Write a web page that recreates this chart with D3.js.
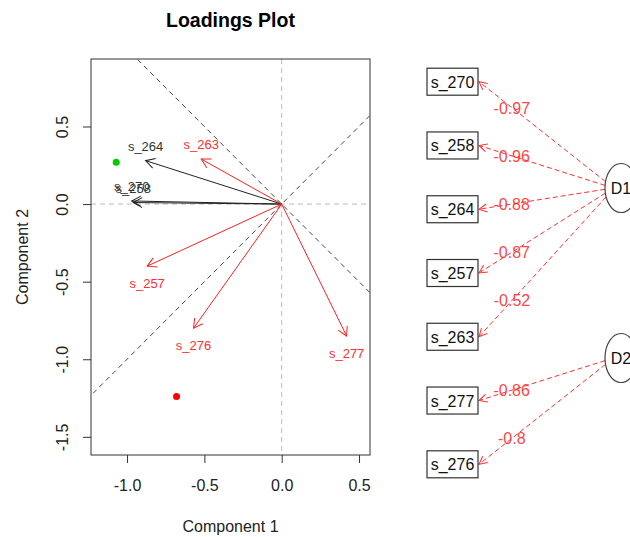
<!DOCTYPE html>
<html>
<head>
<meta charset="utf-8">
<script src="https://cdn.jsdelivr.net/npm/d3@7"></script>
<style>
  body { margin: 0; background: #fff; }
  text { font-family: "Liberation Sans", Arial, sans-serif; }
</style>
</head>
<body>
<svg width="630" height="537"></svg>
<script>
// loadings on the two components (left plot)
const varNames = ["s_270", "s_258", "s_264", "s_263", "s_257", "s_276", "s_277"];
const comp1 = [-0.97, -0.96, -0.88, -0.52, -0.87, -0.57, 0.42];
const comp2 = [0.02, 0.01, 0.28, 0.29, -0.40, -0.80, -0.85];
const varGroup = [1, 1, 1, 2, 2, 2, 2];

// the two score points
const pointX = [-1.07, -0.68];
const pointY = [0.27, -1.24];
const pointGroup = [1, 2];

// tick labels
const xTicks = [-1.0, -0.5, 0.0, 0.5];
const yTicks = [0.5, 0.0, -0.5, -1.0, -1.5];

// path diagram (right)
const pathVars = ["s_270", "s_258", "s_264", "s_257", "s_263", "s_277", "s_276"];
const pathFactor = ["D1", "D1", "D1", "D1", "D1", "D2", "D2"];
const pathLoad = ["-0.97", "-0.96", "-0.88", "-0.87", "-0.52", "-0.86", "-0.8"];
const factors = ["D1", "D2"];

const svg = d3.select("svg");

// plot region
const pLeft = 91, pRight = 370, pTop = 59, pBottom = 455;

const x = d3.scaleLinear().domain([-1.233, 0.571]).range([pLeft, pRight]);
const y = d3.scaleLinear().domain([0.935, -1.617]).range([pTop, pBottom]);

const arrowColor = d3.scaleOrdinal().domain([1, 2]).range(["#222", "#ff2020"]);
const labelColor = d3.scaleOrdinal().domain([1, 2]).range(["#333", "#ff3030"]);
const pointColor = d3.scaleOrdinal().domain([1, 2]).range(["#00cc00", "#ff0000"]);

const defs = svg.append("defs");
defs.append("clipPath").attr("id", "plotclip")
    .append("rect")
    .attr("x", pLeft).attr("y", pTop)
    .attr("width", pRight - pLeft).attr("height", pBottom - pTop);

// arrowheads
[1, 2].forEach(g => {
  defs.append("marker")
      .attr("id", "head" + g)
      .attr("markerUnits", "userSpaceOnUse")
      .attr("markerWidth", 20).attr("markerHeight", 20)
      .attr("viewBox", "-10 -10 20 20")
      .attr("refX", 0).attr("refY", 0)
      .attr("orient", "auto")
      .append("path")
      .attr("d", "M-9,-5L0,0L-9,5")
      .attr("fill", "none")
      .attr("stroke", arrowColor(g))
      .attr("stroke-width", 1);
});
defs.append("marker")
    .attr("id", "pathhead")
    .attr("markerUnits", "userSpaceOnUse")
    .attr("markerWidth", 20).attr("markerHeight", 20)
    .attr("viewBox", "-10 -10 20 20")
    .attr("refX", 0).attr("refY", 0)
    .attr("orient", "auto")
    .append("path")
    .attr("d", "M-8,-4L0,0L-8,4")
    .attr("fill", "none")
    .attr("stroke", "#ff3030")
    .attr("stroke-width", 1);

// title
svg.append("text")
   .attr("x", (pLeft + pRight) / 2).attr("y", 27)
   .attr("text-anchor", "middle")
   .attr("font-size", 19.5).attr("font-weight", "bold")
   .text("Loadings Plot");

const plot = svg.append("g").attr("clip-path", "url(#plotclip)");

// reference lines through the origin
plot.append("line")
    .attr("x1", x(0)).attr("x2", x(0)).attr("y1", pTop).attr("y2", pBottom)
    .attr("stroke", "#bbb").attr("stroke-dasharray", "5,4");
plot.append("line")
    .attr("x1", pLeft).attr("x2", pRight).attr("y1", y(0)).attr("y2", y(0))
    .attr("stroke", "#bbb").attr("stroke-dasharray", "5,4");

// diagonals y = x and y = -x
[[-2, -2, 2, 2], [-2, 2, 2, -2]].forEach(d => {
  plot.append("line")
      .attr("x1", x(d[0])).attr("y1", y(d[1]))
      .attr("x2", x(d[2])).attr("y2", y(d[3]))
      .attr("stroke", "#444").attr("stroke-dasharray", "5,4");
});

// score points
plot.selectAll("circle.score")
    .data(pointX)
    .enter()
    .append("circle")
    .attr("class", "score")
    .attr("cx", (d) => x(d))
    .attr("cy", (d, i) => y(pointY[i]))
    .attr("r", 3.5)
    .attr("fill", (d, i) => pointColor(pointGroup[i]));

// loading arrows
plot.selectAll("line.arrow")
    .data(varNames)
    .enter()
    .append("line")
    .attr("class", "arrow")
    .attr("x1", x(0)).attr("y1", y(0))
    .attr("x2", (d, i) => x(comp1[i]))
    .attr("y2", (d, i) => y(comp2[i]))
    .attr("stroke", (d, i) => arrowColor(varGroup[i]))
    .attr("stroke-width", 1)
    .attr("marker-end", (d, i) => "url(#head" + varGroup[i] + ")");

// labels above or below the arrow tip
svg.selectAll("text.varlab")
   .data(varNames)
   .enter()
   .append("text")
   .attr("class", "varlab")
   .attr("x", (d, i) => x(comp1[i]))
   .attr("y", (d, i) => y(comp2[i]) + (comp2[i] >= 0 ? -10 : 22))
   .attr("text-anchor", "middle")
   .attr("font-size", 13)
   .attr("fill", (d, i) => labelColor(varGroup[i]))
   .text((d) => d);

// frame
svg.append("rect")
   .attr("x", pLeft).attr("y", pTop)
   .attr("width", pRight - pLeft).attr("height", pBottom - pTop)
   .attr("fill", "none").attr("stroke", "#333");

// x axis
const xAxis = svg.append("g")
   .attr("transform", "translate(0," + pBottom + ")")
   .call(d3.axisBottom(x).tickValues(xTicks).tickSize(8).tickPadding(17));
xAxis.select(".domain").remove();
xAxis.selectAll("line").attr("stroke", "#333");
xAxis.selectAll("text")
     .attr("font-size", 16).attr("fill", "#222")
     .attr("font-family", "Liberation Sans, Arial, sans-serif")
     .text((d) => d3.format(".1f")(d).replace("−", "-"));

// y axis with rotated labels
const yAxis = svg.append("g")
   .attr("transform", "translate(" + pLeft + ",0)")
   .call(d3.axisLeft(y).tickValues(yTicks).tickSize(8));
yAxis.select(".domain").remove();
yAxis.selectAll("line").attr("stroke", "#333");
yAxis.selectAll("text")
     .attr("x", 0).attr("y", 0).attr("dy", 0)
     .attr("transform", "translate(-23.5,0) rotate(-90)")
     .attr("text-anchor", "middle")
     .attr("font-size", 16).attr("fill", "#222")
     .attr("font-family", "Liberation Sans, Arial, sans-serif")
     .text((d) => d3.format(".1f")(d).replace("−", "-"));

// axis titles
svg.append("text")
   .attr("x", (pLeft + pRight) / 2).attr("y", 532)
   .attr("text-anchor", "middle").attr("font-size", 16).attr("fill", "#222")
   .text("Component 1");
svg.append("text")
   .attr("transform", "translate(27.5," + (pTop + pBottom) / 2 + ") rotate(-90)")
   .attr("text-anchor", "middle").attr("font-size", 16).attr("fill", "#222")
   .text("Component 2");

// ---- path diagram ----
const boxY = d3.scalePoint().domain(pathVars).range([81.7, 464.3]);
const factorY = d3.scalePoint().domain(factors).range([188, 358]);
const boxL = 427, boxR = 478, boxH = 27;
const ellCx = 621, ellRx = 16, ellRy = 24.5;

function edgeStart(i) {
  const cy = factorY(pathFactor[i]);
  const sy = cy + (boxY(pathVars[i]) - cy) * 0.06;
  const t = (sy - cy) / ellRy;
  return [ellCx - ellRx * Math.sqrt(1 - t * t), sy];
}

const edges = svg.append("g");
edges.selectAll("line")
     .data(pathVars)
     .enter()
     .append("line")
     .attr("x1", (d, i) => edgeStart(i)[0])
     .attr("y1", (d, i) => edgeStart(i)[1])
     .attr("x2", boxR + 1)
     .attr("y2", (d) => boxY(d))
     .attr("stroke", "#ff3030")
     .attr("stroke-dasharray", "5,3")
     .attr("marker-end", "url(#pathhead)");

edges.selectAll("text")
     .data(pathVars)
     .enter()
     .append("text")
     .attr("x", (d, i) => {
       const s = edgeStart(i);
       return s[0] + (boxR - s[0]) * 0.735;
     })
     .attr("y", (d, i) => {
       const s = edgeStart(i);
       return s[1] + (boxY(d) - s[1]) * 0.735 + 6;
     })
     .attr("text-anchor", "middle")
     .attr("font-size", 16)
     .attr("fill", "#ff3030")
     .attr("fill-opacity", 0.92)
     .text((d, i) => pathLoad[i]);

// manifest boxes
const boxes = svg.append("g").selectAll("g")
   .data(pathVars)
   .enter()
   .append("g");
boxes.append("rect")
     .attr("x", boxL).attr("y", (d) => boxY(d) - boxH / 2)
     .attr("width", boxR - boxL).attr("height", boxH)
     .attr("fill", "#fff").attr("stroke", "#333").attr("stroke-width", 1.2);
boxes.append("text")
     .attr("x", (boxL + boxR) / 2).attr("y", (d) => boxY(d) + 6)
     .attr("text-anchor", "middle").attr("font-size", 16).attr("fill", "#111")
     .text((d) => d);

// latent factors
const facs = svg.append("g").selectAll("g")
   .data(factors)
   .enter()
   .append("g");
facs.append("ellipse")
    .attr("cx", ellCx).attr("cy", (d) => factorY(d))
    .attr("rx", ellRx).attr("ry", ellRy)
    .attr("fill", "#fff").attr("stroke", "#444").attr("stroke-width", 1.2);
facs.append("text")
    .attr("x", ellCx).attr("y", (d) => factorY(d) + 6)
    .attr("text-anchor", "middle").attr("font-size", 16).attr("fill", "#111")
    .text((d) => d);
</script>
</body>
</html>
